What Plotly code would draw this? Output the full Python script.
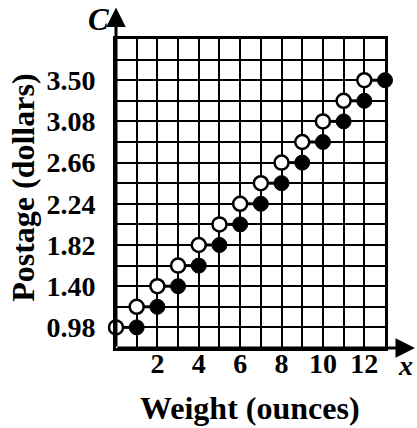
import plotly.graph_objects as go

# Data
weight_open = [0, 1, 2, 3, 4, 5, 6, 7, 8, 9, 10, 11, 12]
weight_closed = [1, 2, 3, 4, 5, 6, 7, 8, 9, 10, 11, 12, 13]
postage = [0.98, 1.19, 1.40, 1.61, 1.82, 2.03, 2.24, 2.45, 2.66, 2.87, 3.08, 3.29, 3.50]
x_ticks = [2, 4, 6, 8, 10, 12]
y_ticks = [0.98, 1.40, 1.82, 2.24, 2.66, 3.08, 3.50]
y_tick_text = ["0.98", "1.40", "1.82", "2.24", "2.66", "3.08", "3.50"]

FONT = "Liberation Serif"
X_MIN, X_MAX = 0, 13
Y_MIN, Y_MAX = 0.77, 3.92

fig = go.Figure()

# horizontal step segments
seg_x, seg_y = [], []
for xo, xc, p in zip(weight_open, weight_closed, postage):
    seg_x += [xo, xc, None]
    seg_y += [p, p, None]
fig.add_trace(go.Scatter(x=seg_x, y=seg_y, mode="lines",
                         line=dict(color="black", width=3),
                         hoverinfo="skip", showlegend=False, cliponaxis=False))
fig.add_trace(go.Scatter(x=weight_closed, y=postage, mode="markers",
                         marker=dict(size=15, color="black",
                                     line=dict(color="black", width=1)),
                         showlegend=False, cliponaxis=False))
fig.add_trace(go.Scatter(x=weight_open, y=postage, mode="markers",
                         marker=dict(size=14, color="white",
                                     line=dict(color="black", width=2.5)),
                         showlegend=False, cliponaxis=False))

# axis arrows
fig.add_annotation(x=14.45, y=Y_MIN, ax=X_MIN, ay=Y_MIN, xref="x", yref="y",
                   axref="x", ayref="y", showarrow=True, arrowhead=2,
                   arrowsize=1.3, arrowwidth=3, arrowcolor="black", text="")
fig.add_annotation(x=X_MIN, y=4.24, ax=X_MIN, ay=Y_MIN, xref="x", yref="y",
                   axref="x", ayref="y", showarrow=True, arrowhead=2,
                   arrowsize=1.3, arrowwidth=3, arrowcolor="black", text="")
# axis letters
fig.add_annotation(x=1.078, y=-0.058, xref="paper", yref="paper", text="<i>x</i>",
                   showarrow=False, xanchor="center", yanchor="middle", borderpad=0,
                   font=dict(family=FONT, size=28, color="black", weight="bold"))
fig.add_annotation(x=-0.065, y=1.062, xref="paper", yref="paper", text="<i>C</i>",
                   showarrow=False, xanchor="center", yanchor="middle",
                   font=dict(family=FONT, size=31, color="black", weight="bold"))
# axis titles
fig.add_annotation(x=0.498, y=-0.194, xref="paper", yref="paper", text="Weight (ounces)",
                   showarrow=False, xanchor="center", yanchor="middle",
                   font=dict(family=FONT, size=32, color="black", weight="bold"))
fig.add_annotation(x=-0.346, y=0.518, xref="paper", yref="paper", text="Postage (dollars)",
                   showarrow=False, xanchor="center", yanchor="middle", textangle=-90,
                   font=dict(family=FONT, size=32, color="black", weight="bold"))

fig.update_xaxes(range=[X_MIN, X_MAX], tickvals=x_ticks,
                 ticktext=[str(v) for v in x_ticks],
                 showgrid=True, gridcolor="black", gridwidth=2,
                 minor=dict(dtick=1, tick0=0, showgrid=True, gridcolor="black", gridwidth=2),
                 showline=True, linecolor="black", linewidth=3, mirror=True,
                 ticks="", zeroline=False, ticklabelstandoff=-12, automargin=False,
                 tickfont=dict(family=FONT, size=28, color="black", weight="bold"))
fig.update_yaxes(range=[Y_MIN, Y_MAX], tickvals=y_ticks, ticktext=y_tick_text,
                 showgrid=True, gridcolor="black", gridwidth=2,
                 minor=dict(dtick=0.21, tick0=0.77, showgrid=True, gridcolor="black", gridwidth=2),
                 showline=True, linecolor="black", linewidth=3, mirror=True,
                 ticks="", zeroline=False, ticklabelstandoff=12, automargin=False,
                 tickfont=dict(family=FONT, size=28, color="black", weight="bold"))

fig.update_layout(width=417, height=428, margin=dict(l=116, r=32, t=39, b=80),
                  plot_bgcolor="white", paper_bgcolor="white")

fig.write_html("out.html", config={"displayModeBar": False},
               post_script="document.body.style.margin='0';document.body.style.overflow='hidden';")
